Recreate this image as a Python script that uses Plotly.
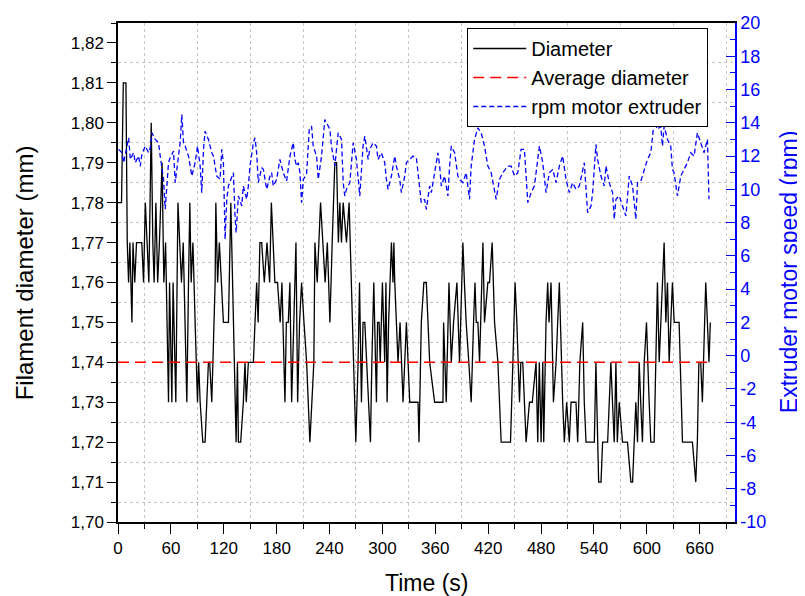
import plotly.graph_objects as go

# ---------------- data ----------------
diam_time = [
    0, 4, 6, 9, 10.5, 12, 13.5, 15.8, 17, 19,
    21, 27, 29, 31, 33, 35, 37.7, 39.5, 41, 43,
    45, 47, 50, 52, 54, 55.5, 57.3, 58.5, 59.5, 61.1,
    62.5, 64, 65.6, 68, 70, 72, 74, 76, 78.1, 80,
    81.5, 83, 85, 87.5, 90.2, 91.5, 93.2, 96.2, 98.8, 102.6,
    104, 106.4, 110.2, 111, 113, 115, 117, 119.6, 125.3, 128,
    130, 132, 134, 135.5, 136.6, 139.2, 142.2, 144.1, 145.5, 147.9,
    153.6, 157.3, 159, 161, 163, 166, 169, 172, 174, 176,
    178, 181, 184, 186, 189.4, 191, 193.2, 195, 197, 201.9,
    203.8, 206, 208.3, 211, 214, 217.7, 220, 222.2, 223.4, 226,
    229.8, 232.8, 235, 237.5, 240.4, 243, 246, 248, 250, 251.7,
    253.5, 255.5, 259.2, 262.2, 264.9, 266.8, 269.8, 272.4, 274, 276.2,
    278, 280, 283.8, 286.4, 288, 290.2, 293.2, 294.5, 296.2, 297.5,
    300, 302.6, 304, 305.3, 307, 310.2, 312, 313, 314, 317.7,
    320, 323.4, 327.2, 331, 340.4, 341.5, 344.1, 347, 349.8, 353.6,
    359.2, 368.7, 369.4, 372.4, 375.5, 378.1, 380.7, 384.5, 387.5, 391.3,
    393, 395, 398, 400.7, 403.4, 405, 406.5, 408.3, 410.2, 414,
    415.8, 419.6, 421.5, 424.5, 427.2, 431, 434.7, 445.3, 448, 450.5,
    452.5, 455.5, 457, 459.2, 463, 466.8, 470, 474.3, 476.2, 478,
    480, 481.9, 483, 485.6, 487.5, 489, 491.3, 494, 497, 500.7,
    504.5, 506.4, 509, 512, 514, 519.6, 521.5, 524, 527.2, 529,
    531, 540.4, 542.2, 545.3, 548, 549.8, 555.5, 557.3, 559.2, 561,
    563, 564.9, 566.5, 568.7, 572.4, 578, 581.9, 583.8, 587.5, 589.4,
    591.3, 593, 595, 597, 599.6, 602.6, 604.5, 608.3, 610.2, 612,
    614, 615.8, 617.5, 619.6, 621.5, 623.4, 625.3, 627, 629, 631,
    636.6, 640.4, 651.7, 655.5, 657.3, 659, 661.1, 663, 666.8, 668.7,
    670.5, 672,
]
diam_value = [
    1.78, 1.78, 1.81, 1.81, 1.77, 1.76, 1.77, 1.75, 1.77, 1.76,
    1.77, 1.77, 1.76, 1.78, 1.77, 1.76, 1.80, 1.77, 1.76, 1.78,
    1.76, 1.77, 1.79, 1.76, 1.77, 1.75, 1.73, 1.76, 1.75, 1.73,
    1.76, 1.74, 1.73, 1.78, 1.77, 1.76, 1.77, 1.75, 1.73, 1.76,
    1.78, 1.76, 1.77, 1.75, 1.73, 1.74, 1.73, 1.72, 1.72, 1.74,
    1.74, 1.73, 1.76, 1.78, 1.76, 1.77, 1.76, 1.75, 1.75, 1.78,
    1.76, 1.74, 1.72, 1.74, 1.72, 1.72, 1.73, 1.74, 1.73, 1.74,
    1.74, 1.76, 1.75, 1.77, 1.77, 1.76, 1.77, 1.76, 1.78, 1.77,
    1.76, 1.76, 1.75, 1.76, 1.73, 1.75, 1.75, 1.76, 1.73, 1.77,
    1.73, 1.75, 1.76, 1.75, 1.74, 1.72, 1.73, 1.74, 1.77, 1.76,
    1.78, 1.77, 1.76, 1.77, 1.75, 1.77, 1.79, 1.79, 1.77, 1.78,
    1.77, 1.78, 1.77, 1.78, 1.76, 1.74, 1.72, 1.74, 1.76, 1.73,
    1.75, 1.75, 1.73, 1.72, 1.74, 1.76, 1.73, 1.75, 1.75, 1.74,
    1.76, 1.74, 1.76, 1.73, 1.75, 1.77, 1.76, 1.77, 1.76, 1.74,
    1.75, 1.73, 1.75, 1.73, 1.73, 1.72, 1.75, 1.76, 1.76, 1.74,
    1.73, 1.73, 1.75, 1.73, 1.76, 1.74, 1.75, 1.76, 1.74, 1.77,
    1.76, 1.75, 1.74, 1.73, 1.75, 1.76, 1.75, 1.75, 1.74, 1.77,
    1.75, 1.76, 1.76, 1.77, 1.75, 1.74, 1.72, 1.72, 1.74, 1.76,
    1.75, 1.73, 1.74, 1.74, 1.72, 1.73, 1.73, 1.74, 1.72, 1.74,
    1.72, 1.74, 1.72, 1.75, 1.76, 1.75, 1.76, 1.73, 1.74, 1.76,
    1.73, 1.72, 1.73, 1.72, 1.73, 1.73, 1.72, 1.74, 1.75, 1.73,
    1.72, 1.72, 1.74, 1.71, 1.71, 1.72, 1.72, 1.73, 1.74, 1.73,
    1.72, 1.74, 1.72, 1.73, 1.72, 1.72, 1.71, 1.71, 1.73, 1.72,
    1.74, 1.73, 1.72, 1.74, 1.75, 1.73, 1.72, 1.72, 1.74, 1.76,
    1.74, 1.75, 1.76, 1.77, 1.75, 1.76, 1.74, 1.75, 1.76, 1.75,
    1.75, 1.72, 1.72, 1.71, 1.72, 1.74, 1.74, 1.73, 1.76, 1.75,
    1.74, 1.75,
]

avg_diameter = 1.74

rpm_time = [
    0.7, 4.5, 6.4, 12.1, 14, 17.7, 19.6, 23.4, 25.3, 27.1,
    30.9, 34.7, 36.6, 38.5, 42.2, 46, 47.9, 51.7, 53.6, 55.5,
    57.3, 59.2, 63, 64.9, 68.7, 70.5, 72.4, 74.3, 76.2, 80,
    83.8, 87.5, 90.2, 93.2, 95, 97, 98.8, 102.6, 106.4, 108.3,
    112, 115.8, 117.7, 119.6, 121.5, 123.4, 125.3, 129, 130.9, 132.8,
    134, 136.6, 140.4, 142.2, 146, 147.9, 149.8, 153.6, 155.4, 157.3,
    159.2, 163, 164.9, 168.7, 172.4, 174.3, 176.2, 180, 183.7, 187.5,
    191.3, 195.1, 198.8, 200.7, 202.6, 204.5, 206.4, 208.3, 210.2, 213.9,
    217, 219.6, 221.5, 225.3, 227.2, 230.9, 234.7, 236.6, 240.4, 242.2,
    246, 249.8, 253.6, 255.5, 257.3, 259.2, 263, 266.8, 270.5, 274.3,
    278, 280, 283.8, 285.6, 289.4, 293.2, 295, 298.8, 302.6, 304.5,
    306.4, 310.2, 314, 315.8, 319.6, 321.5, 325.3, 327.2, 331, 334.7,
    338.5, 340.4, 342.2, 344.1, 347.9, 349.8, 353.6, 355.5, 359.2, 363,
    364.9, 366.8, 370.5, 374.3, 376.2, 378.1, 381.9, 385.6, 387.5, 391.3,
    395, 398.8, 400.7, 404.5, 408.3, 412, 415.8, 419.6, 423.4, 429,
    432.8, 436.6, 442.2, 446, 449.8, 453.6, 457.3, 461.1, 464.9, 468.7,
    472.4, 474.3, 478.1, 481.9, 485.6, 489.4, 493.2, 497, 500.7, 504.5,
    508.3, 512, 515.8, 519.6, 523.4, 529, 532.8, 536.6, 538.5, 542.2,
    544.1, 547.9, 551.7, 553.6, 557.3, 561.1, 563, 564.9, 568.7, 572.4,
    576.2, 580, 583.8, 587.5, 589.4, 593.2, 597, 600.7, 604.5, 608.3,
    612, 615.8, 617.7, 619.6, 623.4, 627.1, 629, 630.9, 634.7, 638.5,
    642.2, 646, 649.8, 653.6, 657.3, 661.1, 664.9, 668.7, 670.5,
]
rpm_value = [
    12.4, 12.2, 11.6, 13.1, 11.8, 12.2, 11.6, 12.0, 11.4, 12.1,
    12.6, 12.2, 12.5, 13.4, 13.0, 12.8, 12.0, 10.6, 8.8, 10.4,
    11.6, 11.9, 12.3, 10.4, 12.0, 12.8, 14.5, 12.8, 12.6, 12.0,
    10.8, 11.6, 12.6, 11.4, 9.8, 12.4, 13.5, 13.0, 12.2, 12.0,
    10.8, 10.6, 12.4, 11.6, 7.0, 9.4, 10.2, 10.8, 11.0, 8.4,
    7.4, 9.6, 9.0, 10.2, 9.4, 10.2, 11.4, 12.8, 13.1, 12.2,
    10.4, 11.3, 11.2, 10.0, 10.8, 11.0, 10.2, 10.6, 11.8, 11.0,
    10.5, 12.0, 12.8, 11.8, 11.4, 11.6, 11.0, 9.2, 10.6, 10.9,
    13.6, 13.8, 12.6, 12.0, 10.6, 12.0, 14.2, 14.0, 13.6, 12.6,
    11.4, 13.4, 13.0, 10.4, 9.6, 10.0, 10.4, 12.8, 11.8, 9.6,
    12.6, 13.2, 11.8, 12.4, 12.8, 12.6, 11.8, 12.2, 11.6, 10.6,
    10.0, 10.8, 12.0, 11.4, 10.6, 9.8, 10.8, 11.6, 11.8, 12.0,
    11.9, 11.0, 9.8, 9.2, 9.4, 8.8, 10.2, 9.8, 11.0, 12.2,
    11.4, 10.2, 10.8, 9.6, 11.4, 12.6, 12.2, 10.8, 10.6, 10.4,
    11.0, 9.4, 11.4, 13.0, 13.7, 13.4, 12.6, 11.4, 11.0, 9.4,
    10.6, 11.0, 11.4, 11.4, 10.8, 11.0, 12.4, 12.4, 9.2, 9.8,
    10.2, 11.0, 12.6, 11.6, 9.8, 11.0, 11.2, 10.4, 11.4, 12.0,
    10.6, 9.8, 10.4, 10.0, 10.2, 11.6, 8.6, 9.0, 9.8, 12.7,
    11.8, 10.8, 10.2, 11.4, 10.4, 9.8, 8.2, 9.4, 9.6, 9.0,
    8.4, 10.8, 10.2, 8.2, 10.4, 10.5, 11.2, 11.8, 12.2, 14.1,
    13.6, 13.8, 12.6, 13.8, 13.0, 12.6, 11.2, 11.0, 9.6, 10.8,
    11.2, 11.6, 12.2, 12.0, 13.4, 12.8, 12.2, 13.0, 9.4,
]

rpm_tick_values = [-10, -8, -6, -4, -2, 0, 2, 4, 6, 8, 10, 12, 14, 16, 18, 20]
rpm_tick_labels = ["-10", "-8", "-6", "-4", "-2", "0", "2", "4", "6", "8",
                   "10", "12", "14", "16", "18", "20"]

x_title = "Time (s)"
y_title = "Filament diameter (mm)"
y2_title = "Extruder motor speed (rpm)"

# ---------------- figure ----------------
FONT = "Arial, 'Liberation Sans', sans-serif"
GRID = "#c4c4c4"

fig = go.Figure()
fig.add_trace(go.Scatter(
    x=diam_time, y=diam_value, name="Diameter", mode="lines",
    line=dict(color="black", width=1.3), yaxis="y"))
fig.add_trace(go.Scatter(
    x=[diam_time[0], diam_time[-1]], y=[avg_diameter, avg_diameter],
    name="Average diameter", mode="lines",
    line=dict(color="red", width=1.5, dash="11px,6px"), yaxis="y"))
fig.add_trace(go.Scatter(
    x=rpm_time, y=rpm_value, name="rpm motor extruder", mode="lines",
    line=dict(color="blue", width=1.3, dash="5px,3px"), yaxis="y2"))

# The page body has an 8px default margin, so the figure is sized 8px smaller.
fig.update_layout(
    width=797, height=588,
    margin=dict(l=110, r=70, t=15, b=74, autoexpand=False),
    paper_bgcolor="white", plot_bgcolor="white",
    separators=", ",
    font=dict(family=FONT, color="black"),
    showlegend=True,
    legend=dict(
        x=0.566, y=0.99, xanchor="left", yanchor="top",
        bgcolor="white", bordercolor="black", borderwidth=1,
        font=dict(family=FONT, size=20, color="black"),
        tracegroupgap=0, itemwidth=53,
    ),
    xaxis=dict(
        range=[0, 700], tick0=0, dtick=60, automargin=False,
        ticks="outside", ticklen=10, tickwidth=1.3, tickcolor="black",
        showline=True, linecolor="black", linewidth=1.5, mirror=True,
        showgrid=False, zeroline=False,
        tickfont=dict(family=FONT, size=17, color="black"),
        minor=dict(dtick=30, tick0=0, ticks="outside", ticklen=5, tickwidth=1.2,
                   tickcolor="black", showgrid=True, gridcolor=GRID,
                   griddash="dot", gridwidth=1),
    ),
    yaxis=dict(
        range=[1.70, 1.825], tick0=1.70, dtick=0.01, tickformat=".2f",
        automargin=False,
        ticks="outside", ticklen=9, tickwidth=1.3, tickcolor="black",
        showline=True, linecolor="black", linewidth=1.5,
        showgrid=False, zeroline=False,
        tickfont=dict(family=FONT, size=17, color="black"),
        minor=dict(dtick=0.005, tick0=1.70, ticks="outside", ticklen=5, tickwidth=1.2,
                   tickcolor="black", showgrid=True, gridcolor=GRID,
                   griddash="dot", gridwidth=1),
    ),
    yaxis2=dict(
        overlaying="y", side="right", anchor="x", automargin=False,
        range=[-10, 20], tickvals=rpm_tick_values, ticktext=rpm_tick_labels,
        ticks="inside", ticklen=9, tickwidth=1.3, tickcolor="blue",
        showline=True, linecolor="blue", linewidth=1.5,
        showgrid=False, zeroline=False,
        tickfont=dict(family=FONT, size=18, color="blue"),
        minor=dict(dtick=1, tick0=0, ticks="inside", ticklen=5, tickwidth=1.2,
                   tickcolor="blue", showgrid=False),
    ),
    annotations=[
        dict(text=x_title, xref="paper", yref="paper", x=0.5, y=-0.122,
             xanchor="center", yanchor="middle", showarrow=False,
             font=dict(family=FONT, size=23, color="black")),
        dict(text=y_title, xref="paper", yref="paper", x=-0.151, y=0.5,
             xanchor="center", yanchor="middle", showarrow=False, textangle=-90,
             font=dict(family=FONT, size=24, color="black")),
        dict(text=y2_title, xref="paper", yref="paper", x=1.087, y=0.5,
             xanchor="center", yanchor="middle", showarrow=False, textangle=-90,
             font=dict(family=FONT, size=23, color="blue")),
    ],
)

fig.write_html("out.html")
